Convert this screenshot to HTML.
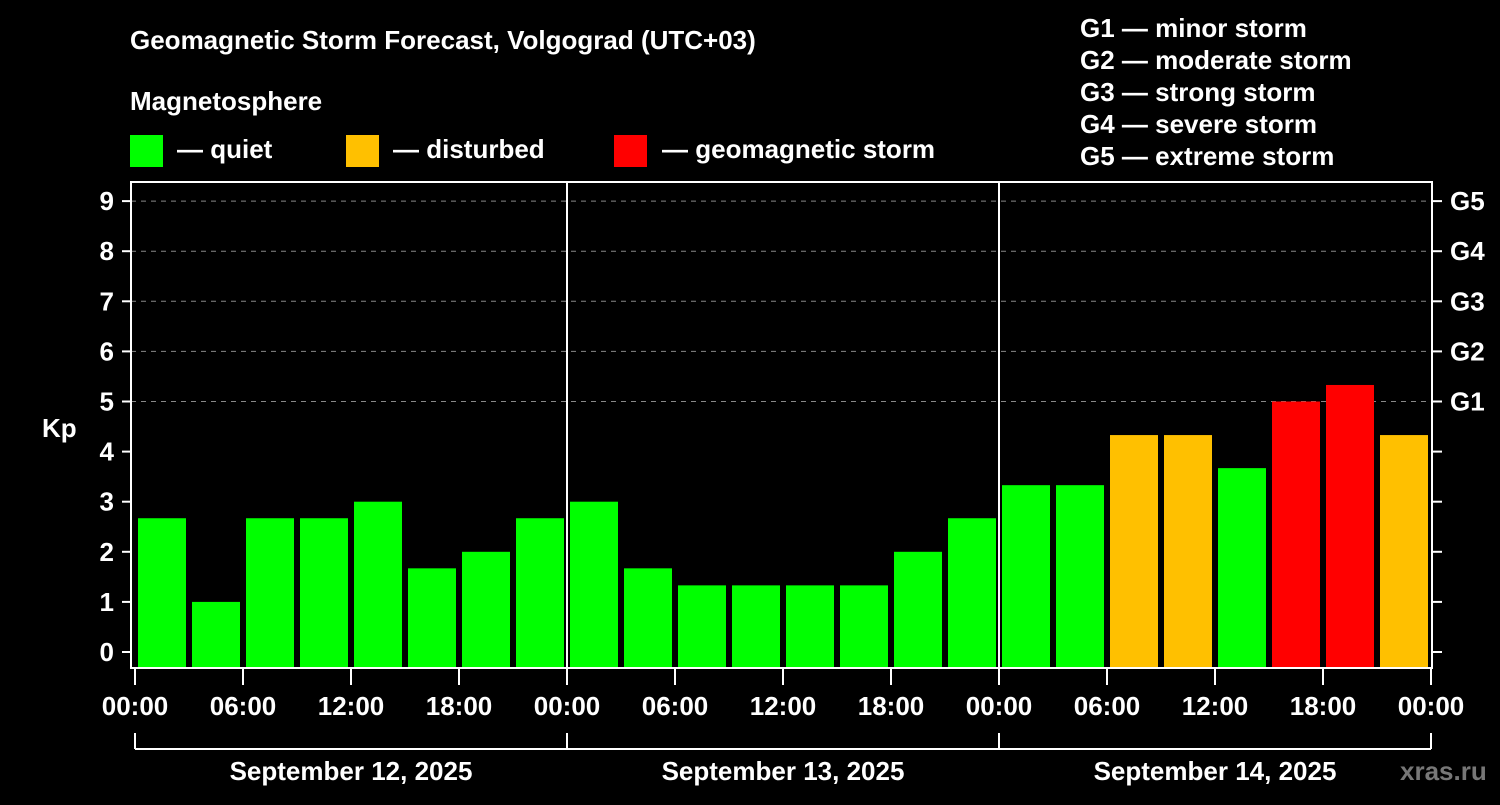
<!DOCTYPE html>
<html><head><meta charset="utf-8"><style>
html,body{margin:0;padding:0;background:#000;}
svg text{font-family:"Liberation Sans",sans-serif;font-weight:bold;fill:#fff;}
</style></head><body>
<svg width="1500" height="800" viewBox="0 0 1500 800">
<rect width="1500" height="800" fill="#000"/>
<text x="130" y="49" font-size="26">Geomagnetic Storm Forecast, Volgograd (UTC+03)</text>
<text x="130" y="110" font-size="26">Magnetosphere</text>
<g>
<rect x="130" y="135" width="33" height="32" fill="#00ff00"/>
<text x="177" y="158" font-size="26">— quiet</text>
<rect x="346" y="135" width="33" height="32" fill="#ffc000"/>
<text x="393" y="158" font-size="26">— disturbed</text>
<rect x="614" y="135" width="33" height="32" fill="#ff0000"/>
<text x="662" y="158" font-size="26">— geomagnetic storm</text>
</g>
<g font-size="26">
<text x="1080" y="37">G1 — minor storm</text>
<text x="1080" y="69">G2 — moderate storm</text>
<text x="1080" y="101">G3 — strong storm</text>
<text x="1080" y="133">G4 — severe storm</text>
<text x="1080" y="165">G5 — extreme storm</text>
</g>
<text x="42" y="437" font-size="26">Kp</text>
<g id="plot"></g>
<text x="1400" y="780" font-size="26" style="fill:#777">xras.ru</text>
</svg>
<script>
const kpValues = [2.67,1,2.67,2.67,3,1.67,2,2.67, 3,1.67,1.33,1.33,1.33,1.33,2,2.67, 3.33,3.33,4.33,4.33,3.67,5,5.33,4.33];
const yTicks = [0,1,2,3,4,5,6,7,8,9];
const gLabels = ["G1","G2","G3","G4","G5"];
const gLevels = [5,6,7,8,9];
const xLabels = ["00:00","06:00","12:00","18:00","00:00","06:00","12:00","18:00","00:00","06:00","12:00","18:00","00:00"];
const dayLabels = ["September 12, 2025","September 13, 2025","September 14, 2025"];

const NS="http://www.w3.org/2000/svg";
const g=document.getElementById('plot');
const L=131,R=1432,T=182,B=668,X0=135,SLOT=54;
const y=v=>652-v*50.1;
const x=i=>X0+i*SLOT;
function mk(tag,attrs,parent){const e=document.createElementNS(NS,tag);for(const k in attrs)e.setAttribute(k,attrs[k]);(parent||g).appendChild(e);return e;}
// grid
gLevels.forEach(v=>{const l=mk('line',{x1:L,x2:R,y1:y(v),y2:y(v),stroke:'#888','stroke-width':1,'stroke-dasharray':'5,5'});

});
// bars
kpValues.forEach((v,i)=>{const c=v>=5?'#ff0000':(v>=4?'#ffc000':'#00ff00');
const r=mk('rect',{x:x(i)+3,y:y(v),width:SLOT-6,height:B-y(v),fill:c});

});
// frame
const f=mk('rect',{x:L,y:T,width:R-L,height:B-T,fill:'none',stroke:'#fff','stroke-width':2});


[1,2].forEach(d=>{const l=mk('line',{x1:x(d*8),x2:x(d*8),y1:T,y2:B,stroke:'#fff','stroke-width':2});

});
// y ticks
yTicks.forEach(v=>{mk('line',{x1:122,x2:L,y1:y(v),y2:y(v),stroke:'#fff','stroke-width':2});
mk('line',{x1:R,x2:1442,y1:y(v),y2:y(v),stroke:'#fff','stroke-width':2});
const t=mk('text',{x:114,y:y(v)+9,'font-size':26,'text-anchor':'end'});t.textContent=v;

});
gLevels.forEach((v,i)=>{const t=mk('text',{x:1450,y:y(v)+9,'font-size':26});t.textContent=gLabels[i];

});
// x ticks
xLabels.forEach((s,i)=>{const xx=x(i*2);mk('line',{x1:xx,x2:xx,y1:B,y2:685,stroke:'#fff','stroke-width':2});
const t=mk('text',{x:xx,y:715,'font-size':26,'text-anchor':'middle'});t.textContent=s;

});
// day brackets
mk('line',{x1:x(0),x2:x(24),y1:749,y2:749,stroke:'#fff','stroke-width':2});
[0,8,16,24].forEach(i=>mk('line',{x1:x(i),x2:x(i),y1:733,y2:749,stroke:'#fff','stroke-width':2}));
dayLabels.forEach((s,d)=>{const t=mk('text',{x:x(d*8+4),y:780,'font-size':26,'text-anchor':'middle'});t.textContent=s;

});
</script>
</body></html>
